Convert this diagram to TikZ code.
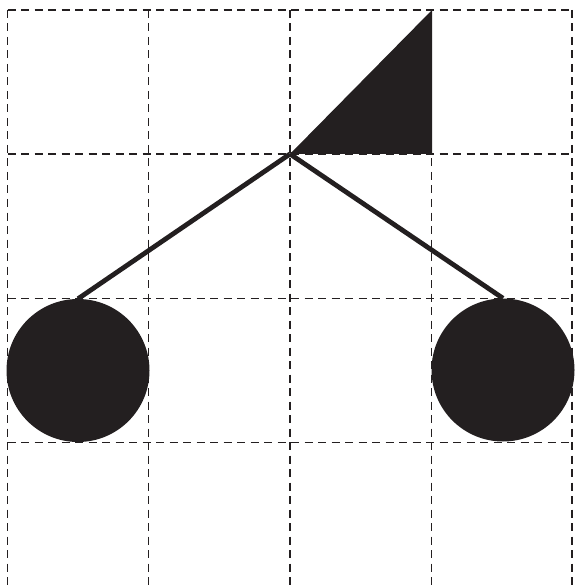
\documentclass[tikz,border=0pt]{standalone}
\begin{document}
\begin{tikzpicture}[x=1pt,y=-1pt,
  gridline/.style={line width=1.5pt,dash pattern=on 8pt off 5.5pt,color=ink},
  ball/.style={circle,fill=ink,draw=none,inner sep=0pt,minimum size=143pt},
  stick/.style={line width=4.8pt,color=ink}]
\definecolor{ink}{HTML}{231F20}
\useasboundingbox (0,0) rectangle (575,585);
% grid
\foreach \x in {7.5,148.5,290,431.7,572}{
  \draw[gridline] (\x,10) -- (\x,585);
}
\foreach \y in {10,154,298.3,442.5}{
  \draw[gridline] (7.5,\y) -- (572,\y);
}
% apex and triangle
\coordinate (apex) at (290,154);
\coordinate (tip) at (432,10);
\coordinate (corner) at (432,154);
\fill[ink] (apex) -- (tip) -- (corner) -- cycle;
% balls
\node[ball] (left) at (78,370.5) {};
\node[ball] (right) at (503,370) {};
% sticks
\draw[stick] (apex) -- (left.north);
\draw[stick] (apex) -- (right.north);
\end{tikzpicture}
\end{document}
